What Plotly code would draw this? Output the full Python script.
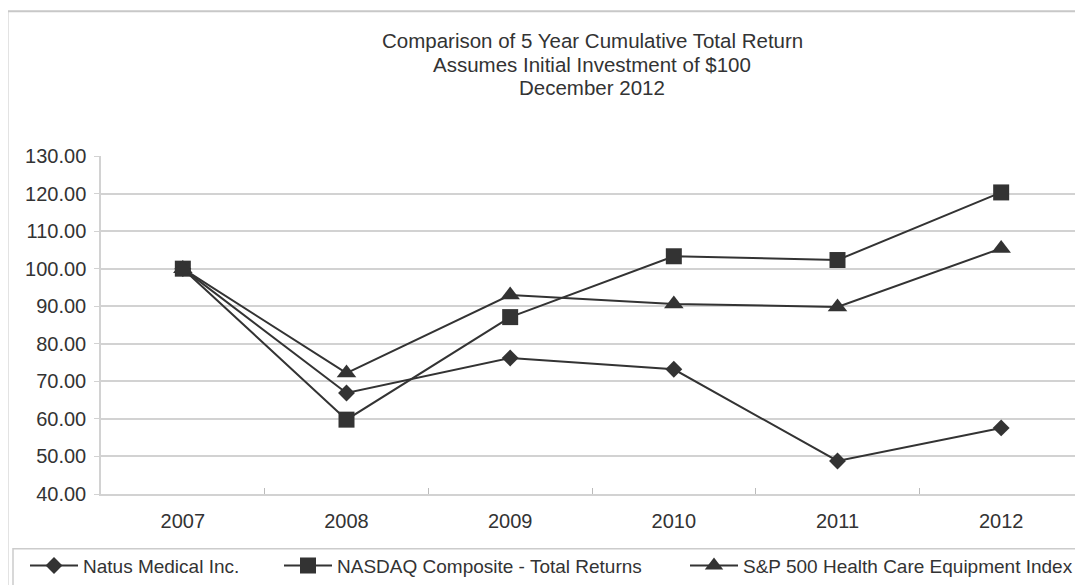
import plotly.graph_objects as go

years = ["2007", "2008", "2009", "2010", "2011", "2012"]
natus = [100.0, 66.9, 76.2, 73.2, 48.8, 57.6]
nasdaq = [100.0, 59.8, 87.1, 103.3, 102.3, 120.3]
sp_hce = [100.0, 72.2, 93.0, 90.6, 89.8, 105.4]

series_names = ["Natus Medical Inc.", "NASDAQ Composite - Total Returns",
                "S&P 500 Health Care Equipment Index"]
y_ticks = [40, 50, 60, 70, 80, 90, 100, 110, 120, 130]
title_lines = ["Comparison of 5 Year Cumulative Total Return",
               "Assumes Initial Investment of $100",
               "December 2012"]

INK = "#333333"
GRID = "#d2d2d2"
FONT = "Liberation Sans, Arial, sans-serif"

# page offset of the figure (body margin)
OFF = 8
L, T, W, H = 101, 156, 982, 340   # plot area in page pixels


def px(x):
    return (x - L) / W


def py(y):
    return (T + H - y) / H


fig = go.Figure()
legends = ["legend", "legend2", "legend3"]
for name, vals, sym, size, lg in [
    (series_names[0], natus, "diamond", 13, legends[0]),
    (series_names[1], nasdaq, "square", 16, legends[1]),
    (series_names[2], sp_hce, "triangle-up", 17, legends[2]),
]:
    fig.add_trace(go.Scatter(
        x=years, y=vals, name=name, mode="lines+markers",
        line=dict(color=INK, width=2),
        marker=dict(symbol=sym, size=size, color=INK),
        legend=lg,
    ))

legend_common = dict(
    orientation="h", xanchor="left", y=py(568), yanchor="middle",
    font=dict(family=FONT, size=19, color=INK), bgcolor="rgba(0,0,0,0)",
    itemwidth=48,
)

annotations = [
    dict(text=t, xref="paper", yref="paper", x=0.5, y=py(yy),
         xanchor="center", yanchor="middle", showarrow=False,
         font=dict(family=FONT, size=20.5, color=INK))
    for t, yy in zip(title_lines, [40, 64, 87])
]

fig.update_layout(
    width=1083, height=585,
    margin=dict(l=L - OFF, r=1083 - (L - OFF) - W, t=T - OFF,
                b=585 - (T - OFF) - H, pad=0),
    paper_bgcolor="white", plot_bgcolor="white",
    font=dict(family=FONT, size=19, color=INK),
    xaxis=dict(
        type="category", range=[-0.5, 5.5],
        showgrid=False, showline=True, linecolor=GRID, linewidth=1.5,
        ticks="inside", tickson="boundaries", ticklen=6, tickcolor="#bbbbbb",
        tickfont=dict(size=20, color=INK), ticklabelstandoff=8,
    ),
    yaxis=dict(
        range=[40, 130], tickvals=y_ticks, tickformat=".2f",
        showgrid=True, gridcolor=GRID, gridwidth=1.5,
        showline=True, linecolor=GRID, linewidth=1.5,
        ticks="outside", ticklen=5, tickcolor=GRID,
        tickfont=dict(size=20, color=INK), ticklabelstandoff=4,
        zeroline=False,
    ),
    showlegend=True,
    legend=dict(x=px(25), **legend_common),
    legend2=dict(x=px(279), **legend_common),
    legend3=dict(x=px(685), **legend_common),
    annotations=annotations,
    shapes=[
        dict(type="rect", xref="paper", yref="paper",
             x0=px(7.5), x1=px(1095), y0=py(600), y1=py(10.5),
             line=dict(color="#c8c8c8", width=2), layer="below"),
        dict(type="rect", xref="paper", yref="paper",
             x0=px(13), x1=px(1095), y0=py(600), y1=py(551),
             line=dict(color="#cccccc", width=1.5), layer="below"),
    ],
)

fig.write_html("out.html")
